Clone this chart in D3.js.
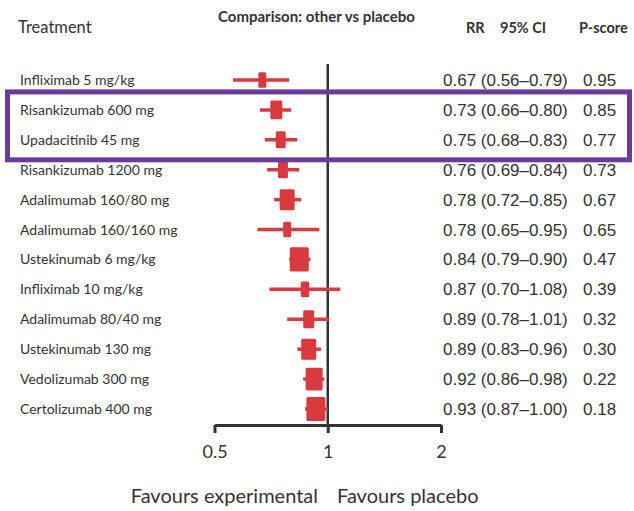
<!DOCTYPE html>
<html>
<head>
<meta charset="utf-8">
<script src="https://cdn.jsdelivr.net/npm/d3@7/dist/d3.min.js"></script>
<style>
  html, body { margin: 0; padding: 0; background: #fff; }
  svg { display: block; }
</style>
</head>
<body>
<svg id="chart" width="634" height="511"></svg>
<script>
// Network meta-analysis: each treatment compared with placebo
const treatments = [
  "Infliximab 5 mg/kg", "Risankizumab 600 mg", "Upadacitinib 45 mg",
  "Risankizumab 1200 mg", "Adalimumab 160/80 mg", "Adalimumab 160/160 mg",
  "Ustekinumab 6 mg/kg", "Infliximab 10 mg/kg", "Adalimumab 80/40 mg",
  "Ustekinumab 130 mg", "Vedolizumab 300 mg", "Certolizumab 400 mg"
];
const rr      = [0.67, 0.73, 0.75, 0.76, 0.78, 0.78, 0.84, 0.87, 0.89, 0.89, 0.92, 0.93];
const ciLow   = [0.56, 0.66, 0.68, 0.69, 0.72, 0.65, 0.79, 0.70, 0.78, 0.83, 0.86, 0.87];
const ciHigh  = [0.79, 0.80, 0.83, 0.84, 0.85, 0.95, 0.90, 1.08, 1.01, 0.96, 0.98, 1.00];
const pScore  = [0.95, 0.85, 0.77, 0.73, 0.67, 0.65, 0.47, 0.39, 0.32, 0.30, 0.22, 0.18];
// relative weight of each comparison (box size)
const weight  = [0.8, 1.2, 1.0, 1.0, 1.5, 0.8, 1.9, 0.85, 1.1, 1.5, 1.7, 1.9];
const tickValues = [0.5, 1, 2];
const highlighted = ["Risankizumab 600 mg", "Upadacitinib 45 mg"];

const rows = treatments.map((t, i) => ({
  name: t, rr: rr[i], lo: ciLow[i], hi: ciHigh[i], p: pScore[i], w: weight[i]
}));

const svg = d3.select("#chart");
const red = "#d93a40";
const ink = "#333333";
const humanist = "Lato, 'Open Sans', sans-serif";
const arial = "'Liberation Sans', Arial, sans-serif";

const x = d3.scaleLog().domain([0.5, 2]).range([214.5, 441]);
const y = d3.scalePoint().domain(treatments).range([80, 409]);
const boxW = d3.scaleLinear().domain([0, 2]).range([0, 20]);
const boxH = w => boxW(w) * 0.8 + 9;
const fmt = d3.format(".2f");

// headers
svg.append("text").attr("x", 18).attr("y", 33)
  .attr("font-family", humanist).attr("font-size", 16.5).attr("fill", ink)
  .text("Treatment");
svg.append("text").attr("x", 218).attr("y", 22)
  .attr("font-family", humanist).attr("font-size", 15).attr("font-weight", "bold").attr("fill", ink)
  .text("Comparison: other vs placebo");
const colHead = [["RR", 466], ["95% CI", 500], ["P-score", 579]];
svg.append("g").selectAll("text").data(colHead).join("text")
  .attr("x", d => d[1]).attr("y", 33)
  .attr("font-family", humanist).attr("font-size", 14.5).attr("font-weight", "bold").attr("fill", ink)
  .text(d => d[0]);

// reference line at RR = 1
svg.append("line")
  .attr("x1", x(1)).attr("x2", x(1))
  .attr("y1", 64).attr("y2", 426)
  .attr("stroke", ink).attr("stroke-width", 2.5);

// confidence intervals and point estimates
const g = svg.append("g");
g.selectAll("line.ci").data(rows).join("line").attr("class", "ci")
  .attr("x1", d => x(d.lo)).attr("x2", d => x(d.hi))
  .attr("y1", d => y(d.name)).attr("y2", d => y(d.name))
  .attr("stroke", red).attr("stroke-width", 3.5);
g.selectAll("rect.est").data(rows).join("rect").attr("class", "est")
  .attr("x", d => x(d.rr) - boxW(d.w) / 2)
  .attr("width", d => boxW(d.w))
  .attr("y", d => y(d.name) - boxH(d.w) / 2)
  .attr("height", d => boxH(d.w))
  .attr("rx", 1.5)
  .attr("fill", red);

// x axis
const axisY = 425;
const axis = svg.append("g").attr("transform", `translate(0,${axisY})`)
  .call(d3.axisBottom(x).tickValues(tickValues).tickFormat(d3.format("~g"))
    .tickSize(8).tickSizeOuter(0).tickPadding(12));
axis.select(".domain").attr("stroke", ink).attr("stroke-width", 3);
axis.selectAll(".tick line").attr("stroke", ink).attr("stroke-width", 3);
axis.selectAll(".tick text").attr("font-family", humanist).attr("font-size", 18).attr("fill", ink);

svg.append("text").attr("x", 318).attr("y", 503).attr("text-anchor", "end")
  .attr("font-family", humanist).attr("font-size", 20).attr("fill", ink)
  .text("Favours experimental");
svg.append("text").attr("x", 337).attr("y", 503)
  .attr("font-family", humanist).attr("font-size", 20).attr("fill", ink)
  .text("Favours placebo");

// treatment names and numeric columns
svg.append("g").selectAll("text").data(rows).join("text")
  .attr("x", 20).attr("y", d => y(d.name) + 5)
  .attr("font-family", humanist).attr("font-size", 14).attr("fill", ink)
  .text(d => d.name);
svg.append("g").selectAll("text").data(rows).join("text")
  .attr("x", 443).attr("y", d => y(d.name) + 6)
  .attr("font-family", arial).attr("font-size", 17).attr("fill", ink)
  .text(d => `${fmt(d.rr)} (${fmt(d.lo)}\u2013${fmt(d.hi)})`);
svg.append("g").selectAll("text").data(rows).join("text")
  .attr("x", 583).attr("y", d => y(d.name) + 6)
  .attr("font-family", arial).attr("font-size", 17).attr("fill", ink)
  .text(d => fmt(d.p));

// highlight frame around selected treatments
const first = y(highlighted[0]), last = y(highlighted[highlighted.length - 1]);
svg.append("rect")
  .attr("x", 7.5).attr("y", first - 18)
  .attr("width", 622).attr("height", last - first + 38)
  .attr("fill", "none").attr("stroke", "#6a3a9c").attr("stroke-width", 5);
</script>
</body>
</html>
